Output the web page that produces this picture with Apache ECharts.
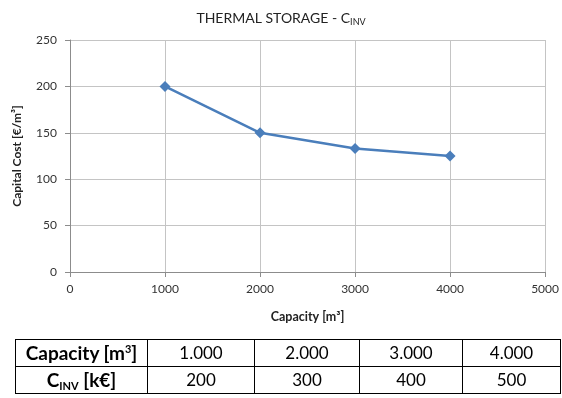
<!DOCTYPE html>
<html>
<head>
<meta charset="utf-8">
<script src="https://cdn.jsdelivr.net/npm/echarts@6/dist/echarts.min.js"></script>
<style>
  html, body { margin: 0; padding: 0; background: #fff; }
  #chart { position: absolute; left: 0; top: 0; width: 562px; height: 398px; }
  #costTable {
    position: absolute; left: 15px; top: 339px;
    border-collapse: collapse; font-family: Lato, "Open Sans", sans-serif;
    color: #000; table-layout: fixed;
  }
  #costTable td {
    border: 1.5px solid #000; height: 26px; padding: 0;
    text-align: center; font-size: 17px; line-height: 26px;
  }
  #costTable td.head { font-weight: bold; font-size: 19px; }
  #costTable sup { font-size: 11px; vertical-align: 7px; line-height: 0; }
  #costTable sub { font-size: 11px; vertical-align: -3px; line-height: 0; }
</style>
</head>
<body>
<div id="chart"></div>
<table id="costTable"></table>
<script>
// Storage volume (m³) and specific capital cost (€/m³)
const capacities = [1000, 2000, 3000, 4000];
const capitalCost = [200, 150, 133, 125];

// Table rows: capacity labels and total investment (k€)
const capacityLabels = ['1.000', '2.000', '3.000', '4.000'];
const investment = [200, 300, 400, 500];
const colWidths = [132, 107, 105, 103, 98];

const xTicks = { min: 0, max: 5000, interval: 1000 };
const yTicks = { min: 0, max: 250, interval: 50 };

const chart = echarts.init(document.getElementById('chart'), null, { renderer: 'canvas' });
const font = 'Lato, "Open Sans", sans-serif';

chart.setOption({
  animation: false,
  backgroundColor: '#fff',
  title: {
    text: '{a|THERMAL STORAGE - C}{s|INV}',
    left: 'center',
    top: 5,
    textStyle: {
      fontWeight: 'normal',
      rich: {
        a: { fontFamily: font, fontSize: 14, fontWeight: 'normal', color: '#222', lineHeight: 17 },
        s: { fontFamily: font, fontSize: 9, fontWeight: 'normal', color: '#222', lineHeight: 17, verticalAlign: 'bottom', padding: [8, 0, 0, 0] }
      }
    }
  },
  grid: { left: 70, right: 16, top: 40, bottom: 126, containLabel: false },
  xAxis: {
    type: 'value',
    min: xTicks.min, max: xTicks.max, interval: xTicks.interval,
    name: 'Capacity [m³]',
    nameLocation: 'middle',
    nameGap: 38,
    nameTextStyle: { fontFamily: font, fontWeight: 'bold', fontSize: 12.5, color: '#222' },
    axisLine: { show: true, lineStyle: { color: '#8c8c8c', width: 1 } },
    axisTick: { show: true, length: 5, lineStyle: { color: '#8c8c8c' } },
    axisLabel: { fontFamily: font, fontSize: 12, color: '#333', margin: 11, formatter: v => String(v) },
    splitLine: { show: true, lineStyle: { color: '#c4c4c4', width: 1 } }
  },
  yAxis: {
    type: 'value',
    min: yTicks.min, max: yTicks.max, interval: yTicks.interval,
    name: 'Capital Cost [€/m³]',
    nameLocation: 'middle',
    nameGap: 47,
    nameRotate: 90,
    nameTextStyle: { fontFamily: font, fontWeight: 'bold', fontSize: 12, color: '#222' },
    axisLine: { show: true, lineStyle: { color: '#8c8c8c', width: 1 } },
    axisTick: { show: true, length: 5, lineStyle: { color: '#8c8c8c' } },
    axisLabel: { fontFamily: font, fontSize: 12, color: '#333', margin: 13 },
    splitLine: { show: true, lineStyle: { color: '#c4c4c4', width: 1 } }
  },
  series: [{
    type: 'line',
    data: capacities.map((c, i) => [c, capitalCost[i]]),
    symbol: 'diamond',
    symbolSize: 11,
    lineStyle: { color: '#4a7ebb', width: 2.5 },
    itemStyle: { color: '#4a7ebb' }
  }]
});

// Summary table under the chart
const table = document.getElementById('costTable');
const colgroup = document.createElement('colgroup');
colWidths.forEach(w => {
  const col = document.createElement('col');
  col.style.width = w + 'px';
  colgroup.appendChild(col);
});
table.appendChild(colgroup);

function addRow(headHtml, values) {
  const tr = document.createElement('tr');
  const th = document.createElement('td');
  th.className = 'head';
  th.innerHTML = headHtml;
  tr.appendChild(th);
  values.forEach(v => {
    const td = document.createElement('td');
    td.textContent = v;
    tr.appendChild(td);
  });
  table.appendChild(tr);
}
addRow('Capacity [m<sup>3</sup>]', capacityLabels);
addRow('C<sub>INV</sub> [k€]', investment);
</script>
</body>
</html>
